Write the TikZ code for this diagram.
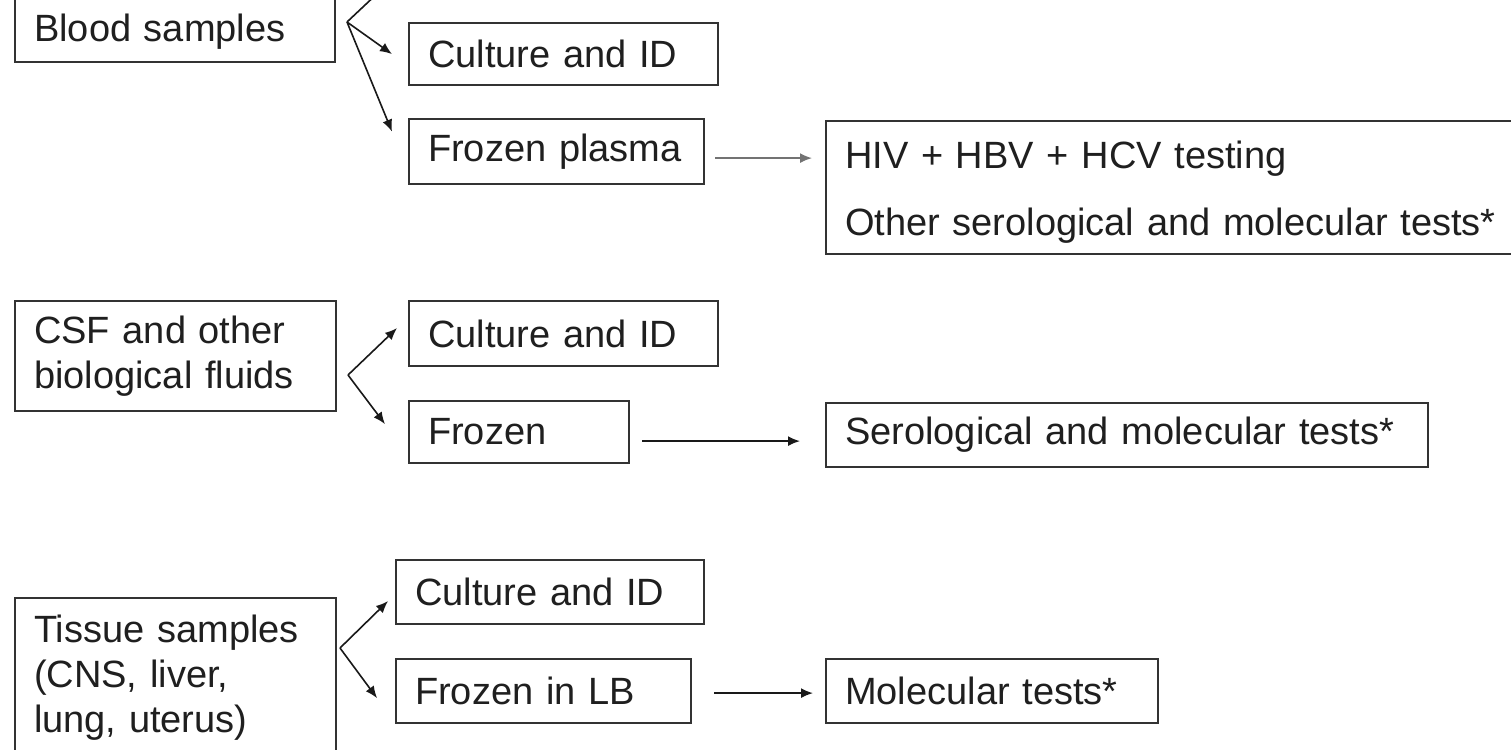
\documentclass[tikz,border=0pt]{standalone}
\usepackage{fontspec}
\setmainfont{Liberation Sans}
\usetikzlibrary{arrows.meta}
\begin{document}
\begin{tikzpicture}[x=0.5pt,y=-0.5pt,
  box/.style={draw=black!80, line width=1.1pt, inner xsep=9.5pt, inner ysep=2pt,
    align=left, anchor=north west, text=black!88,
    font=\fontsize{19pt}{22.5pt}\selectfont},
  arr/.style={draw=black!90, line width=0.8pt, -{Latex[length=6pt,width=5pt]}},
  grayarr/.style={arr, draw=black!55}]
\useasboundingbox (0,0) rectangle (1511,750);
\clip (0,0) rectangle (1511,750);
\fill[white] (0,0) rectangle (1511,750);

% group 1
\node[box, text width=141pt, minimum height=33pt] (blood) at (14,-5) {\rule{0pt}{16.5pt}Blood samples};
\node[box, text width=135.5pt, minimum height=31pt] (cult1) at (408,22) {Culture and ID};
\node[box, text width=128.5pt, minimum height=32.5pt] (plasma) at (408,118) {Frozen plasma};
\node[box, text width=331pt, minimum height=66.5pt] (hiv) at (825,120)
  {\rule{0pt}{18.8pt}HIV + HBV + HCV testing\\[11pt]Other serological and molecular tests*};

% group 2
\node[box, text width=141.5pt, minimum height=55pt] (csf) at (14,300) {CSF and other\\biological fluids};
\node[box, text width=135.5pt, minimum height=32.5pt] (cult2) at (408,300) {Culture and ID};
\node[box, text width=91pt, minimum height=31pt] (frozen) at (408,400) {Frozen};
\node[box, text width=282pt, minimum height=32pt] (sero) at (825,402) {Serological and molecular tests*};

% group 3
\node[box, text width=141.5pt, minimum height=80pt] (tissue) at (14,597) {Tissue samples\\(CNS, liver,\\lung, uterus)};
\node[box, text width=135pt, minimum height=32pt] (cult3) at (395,559) {Culture and ID};
\node[box, text width=128.5pt, minimum height=32pt] (frozenlb) at (395,658) {Frozen in LB};
\node[box, text width=147pt, minimum height=32pt] (molec) at (825,658) {Molecular tests*};

% forks
\coordinate (f1) at (347,22);
\coordinate (f1up) at (381,-10);
\coordinate (f2) at (348,375);
\coordinate (f3) at (340,648);

\draw[draw=black!90, line width=0.8pt] (f1) -- (f1up);
\draw[arr] (f1) -- ([xshift=-8pt]cult1.west);
\draw[arr] (f1) -- ([xshift=-8pt,yshift=10pt]plasma.west);

\draw[arr] (f2) -- ([xshift=-5.5pt,yshift=2.75pt]cult2.west);
\draw[arr] (f2) -- ([xshift=-11.5pt,yshift=4pt]frozen.west);

\draw[arr] (f3) -- ([xshift=-3.5pt,yshift=-4.5pt]cult3.west);
\draw[arr] (f3) -- ([xshift=-9pt,yshift=-3.5pt]frozenlb.west);

% horizontal arrows
\draw[grayarr] ([xshift=5pt,yshift=-3.25pt]plasma.east) coordinate (a1) -- ([xshift=-6.5pt]a1 -| hiv.west);
\draw[arr] ([xshift=6pt,yshift=-4.5pt]frozen.east) coordinate (a2) -- ([xshift=-12.5pt]a2 -| sero.west);
\draw[arr] ([xshift=11pt,yshift=-1pt]frozenlb.east) coordinate (a3) -- ([xshift=-6pt]a3 -| molec.west);
\end{tikzpicture}
\end{document}
